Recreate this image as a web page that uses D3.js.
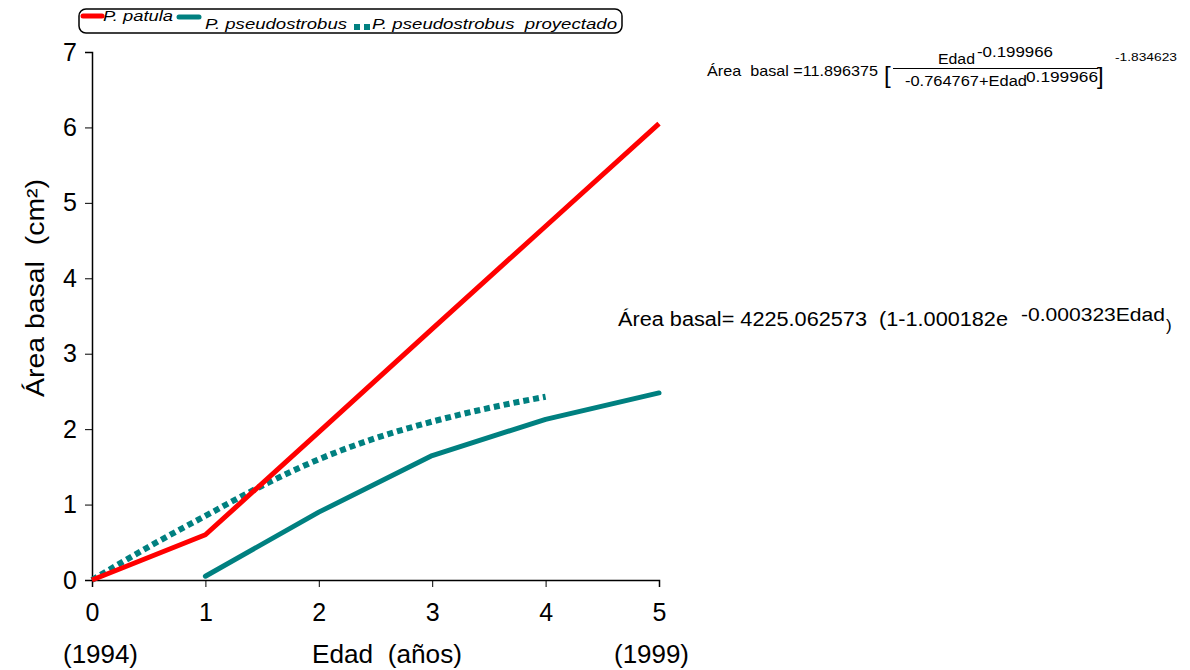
<!DOCTYPE html>
<html><head><meta charset="utf-8">
<script src="https://cdn.jsdelivr.net/npm/d3@7"></script>
<style>body{margin:0;background:#fff}svg{display:block;font-family:Arial,"Liberation Sans",sans-serif}</style>
</head><body><svg id="c" width="1190" height="670"></svg>
<script>
const xTicks = [0,1,2,3,4,5];
const yTicks = [0,1,2,3,4,5,6,7];
const patulaX = [0,1,2,3,4,5];
const patulaY = [0,0.6,1.96,3.33,4.69,6.05];
const pseudoX = [1,2,3,4,5];
const pseudoY = [0.05,0.9,1.65,2.13,2.48];
const projX = [0,0.5,1,1.5,2,2.5,3,3.5,4];
const projY = [0,0.44,0.85,1.25,1.6,1.88,2.1,2.28,2.43];
const seriesNames = ["P. patula","P. pseudostrobus","P. pseudostrobus  proyectado"];
const colors = {red:"#ff0000", teal:"#008080"};

const svg = d3.select("#c");
const x = d3.scaleLinear().domain([0,5]).range([92,659]);
const y = d3.scaleLinear().domain([0,7]).range([580,52]);

// axes
const ax = svg.append("g").attr("transform","translate(0,580)")
  .call(d3.axisBottom(x).tickValues(xTicks).tickSize(7).tickPadding(16).tickFormat(d3.format("d")));
const ay = svg.append("g").attr("transform","translate(92,0)")
  .call(d3.axisLeft(y).tickValues(yTicks).tickSize(7).tickPadding(8).tickFormat(d3.format("d")));
[ax,ay].forEach(a=>{
  a.select(".domain").attr("stroke","#000").attr("stroke-width",1.5);
  a.selectAll(".tick line").attr("stroke","#000").attr("stroke-width",1);
  a.selectAll(".tick text").attr("font-size",25).attr("font-family","Arial, 'Liberation Sans', sans-serif").attr("fill","#000");
});

const line = d3.line().x(d=>x(d[0])).y(d=>y(d[1]));
const lineSmooth = d3.line().x(d=>x(d[0])).y(d=>y(d[1])).curve(d3.curveMonotoneX);

svg.append("path").datum(d3.zip(projX,projY)).attr("d",lineSmooth)
  .attr("fill","none").attr("stroke",colors.teal).attr("stroke-width",6).attr("stroke-dasharray","6,4");
svg.append("path").datum(d3.zip(pseudoX,pseudoY)).attr("d",line)
  .attr("fill","none").attr("stroke",colors.teal).attr("stroke-width",5).attr("stroke-linecap","round").attr("stroke-linejoin","round");
svg.append("path").datum(d3.zip(patulaX,patulaY)).attr("d",line)
  .attr("fill","none").attr("stroke",colors.red).attr("stroke-width",5).attr("stroke-linejoin","round");

// helper for text with fixed width
function txt(g, s, xx, yy, fs, len){
  const t = g.append("text").attr("x",xx).attr("y",yy).attr("font-size",fs).attr("xml:space","preserve").text(s);
  if(len) t.attr("textLength",len).attr("lengthAdjust","spacingAndGlyphs");
  return t;
}

// axis titles
svg.append("text").attr("transform","translate(44,288) rotate(-90)").attr("text-anchor","middle")
  .attr("font-size",25).attr("xml:space","preserve").attr("textLength",218).attr("lengthAdjust","spacingAndGlyphs")
  .text("Área basal  (cm²)");
txt(svg,"Edad  (años)",312,663,25,150);
txt(svg,"(1994)",63,663,25,75);
txt(svg,"(1999)",614,663,25,75);

// legend
const lg = svg.append("g");
lg.append("rect").attr("x",79).attr("y",9).attr("width",543).attr("height",24).attr("rx",7)
  .attr("fill","none").attr("stroke","#000").attr("stroke-width",1.5);
lg.append("line").attr("x1",83).attr("x2",102).attr("y1",16).attr("y2",16).attr("stroke",colors.red).attr("stroke-width",5).attr("stroke-linecap","round");
txt(lg,seriesNames[0],103,21,15,70).attr("font-style","italic");
lg.append("line").attr("x1",179).attr("x2",199).attr("y1",17).attr("y2",17).attr("stroke",colors.teal).attr("stroke-width",5).attr("stroke-linecap","round");
txt(lg,seriesNames[1],205,29,15,142).attr("font-style","italic");
lg.append("line").attr("x1",354).attr("x2",371).attr("y1",27).attr("y2",27).attr("stroke",colors.teal).attr("stroke-width",6).attr("stroke-dasharray","6,4");
txt(lg,seriesNames[2],372,29,15,245).attr("font-style","italic");

// formula 1
const f1 = svg.append("g");
txt(f1,"Área  basal =11.896375",707,76,15,171);
txt(f1,"[",884,83,24);
txt(f1,"Edad",938,64,14,37);
txt(f1,"-0.199966",977,57,14,76);
f1.append("line").attr("x1",893).attr("x2",1098).attr("y1",68.5).attr("y2",68.5).attr("stroke","#000").attr("stroke-width",1);
txt(f1,"-0.764767+Edad",905,86,14,122);
txt(f1,"0.199966",1026,82,14,72);
txt(f1,"]",1097,84,24);
txt(f1,"-1.834623",1115,61,11,62);

// formula 2
const f2 = svg.append("g");
txt(f2,"Área basal= 4225.062573  (1-1.000182e",618,326,20,390);
txt(f2,"-0.000323Edad",1021,321,18,144);
txt(f2,")",1166,331,17);
</script></body></html>
